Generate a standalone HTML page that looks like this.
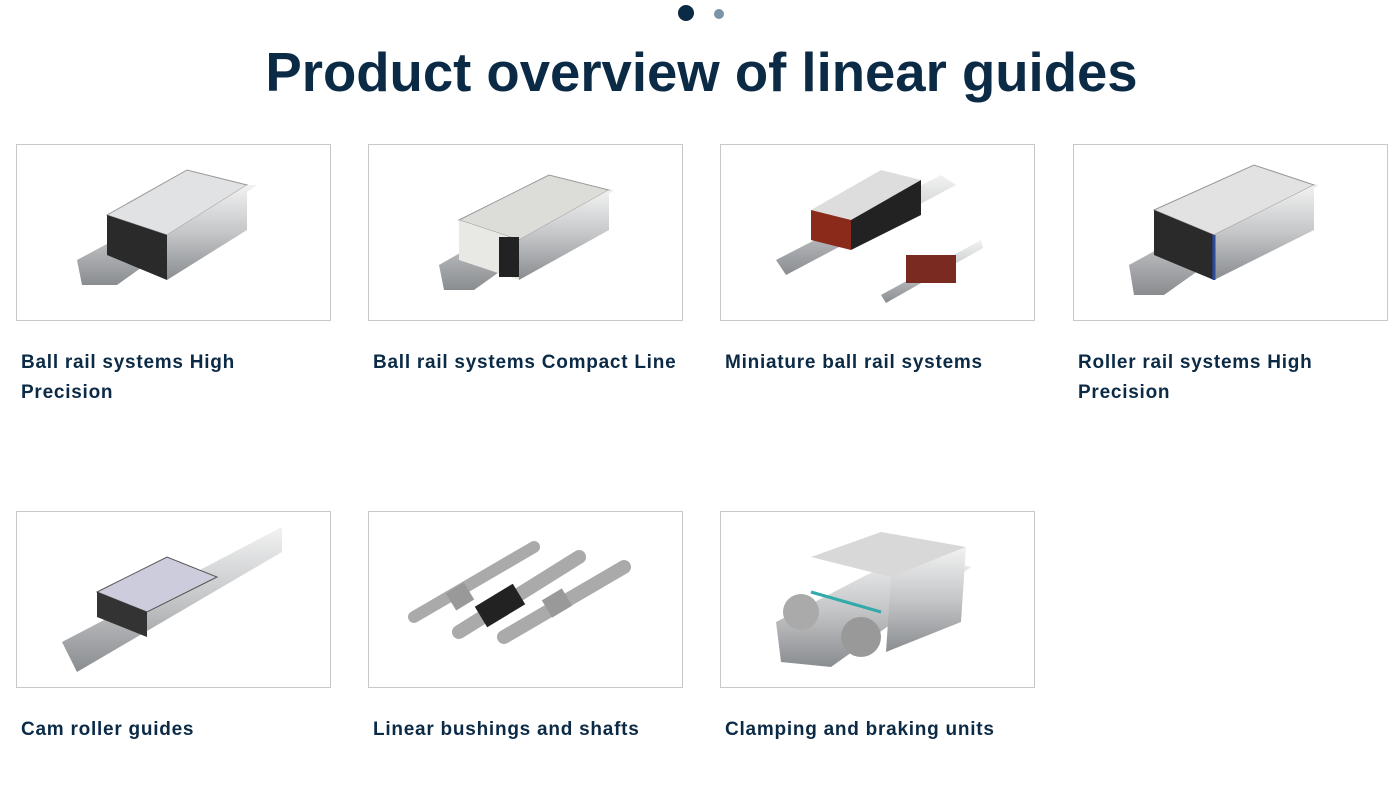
<!DOCTYPE html>
<html><head><meta charset="utf-8"><style>
body{margin:0;width:1395px;height:795px;background:#fff;position:relative;overflow:hidden;font-family:"Liberation Sans",sans-serif;color:#0b2a46}
.dot{position:absolute;border-radius:50%}
h1{position:absolute;left:0;width:1403px;top:41px;margin:0;text-align:center;font-size:54.5px;font-weight:bold;letter-spacing:0px;color:#0b2a46}
.card{position:absolute;width:313px;height:175px;border:1px solid #c8c8c8;background:#fff}
.card svg{position:absolute;left:0;top:0}
.lbl{position:absolute;font-size:19px;font-weight:bold;line-height:30px;width:290px;letter-spacing:0.75px;color:#0b2a46}
</style></head><body>
<div class="dot" style="left:678px;top:5px;width:16px;height:16px;background:#0b2a46"></div>
<div class="dot" style="left:714px;top:9px;width:10px;height:10px;background:#7b93a6"></div>
<h1>Product overview of linear guides</h1>

<svg width="0" height="0" style="position:absolute"><defs>
<linearGradient id="m" x1="0" y1="0" x2="0" y2="1"><stop offset="0" stop-color="#f2f2f2"/><stop offset=".5" stop-color="#c4c6c8"/><stop offset="1" stop-color="#8a8d90"/></linearGradient>
</defs></svg>

<div class="card" style="left:16px;top:144px"><svg width="313" height="175">
<polygon points="60,115 200,40 240,40 100,140 65,140" fill="url(#m)"/>
<polygon points="90,70 170,25 230,40 150,90" fill="#e0e2e4" stroke="#999"/>
<polygon points="90,70 150,90 150,135 90,110" fill="#2a2a2a"/>
<polygon points="150,90 230,40 230,85 150,135" fill="url(#m)"/></svg></div>
<div class="card" style="left:368px;top:144px"><svg width="313" height="175">
<polygon points="70,120 210,40 245,45 105,145 75,145" fill="url(#m)"/>
<polygon points="90,75 180,30 240,45 150,95" fill="#dcdcd8" stroke="#999"/>
<polygon points="90,75 150,95 150,135 90,115" fill="#e8e8e4"/>
<polygon points="150,95 240,45 240,85 150,135" fill="url(#m)"/>
<rect x="130" y="92" width="20" height="40" fill="#222"/></svg></div>
<div class="card" style="left:720px;top:144px"><svg width="313" height="175">
<polygon points="55,115 220,30 235,40 65,130" fill="url(#m)"/>
<polygon points="90,65 160,25 200,35 130,75" fill="#ddd"/>
<polygon points="90,65 130,75 130,105 90,95" fill="#8a2a1a"/>
<polygon points="130,75 200,35 200,70 130,105" fill="#222"/>
<polygon points="160,150 260,95 262,103 165,158" fill="url(#m)"/>
<rect x="185" y="110" width="50" height="28" fill="#7a2a20"/></svg></div>
<div class="card" style="left:1073px;top:144px"><svg width="313" height="175">
<polygon points="55,120 210,35 245,40 90,150 60,150" fill="url(#m)"/>
<polygon points="80,65 180,20 240,40 140,90" fill="#e2e2e2" stroke="#999"/>
<polygon points="80,65 140,90 140,135 80,110" fill="#2a2a2a"/>
<polygon points="140,90 240,40 240,85 140,135" fill="url(#m)"/>
<line x1="140" y1="90" x2="140" y2="135" stroke="#2a4aa0" stroke-width="3"/></svg></div>

<div class="card" style="left:16px;top:511px"><svg width="313" height="175">
<polygon points="45,130 265,15 265,40 60,160" fill="url(#m)"/>
<polygon points="80,80 150,45 200,65 130,100" fill="#ccd" stroke="#555"/>
<polygon points="80,80 130,100 130,125 80,105" fill="#333"/></svg></div>
<div class="card" style="left:368px;top:511px"><svg width="313" height="175">
<line x1="45" y1="105" x2="165" y2="35" stroke="#aaa" stroke-width="12" stroke-linecap="round"/>
<line x1="90" y1="120" x2="210" y2="45" stroke="#aaa" stroke-width="14" stroke-linecap="round"/>
<line x1="135" y1="125" x2="255" y2="55" stroke="#aaa" stroke-width="14" stroke-linecap="round"/>
<line x1="112" y1="105" x2="150" y2="82" stroke="#222" stroke-width="24"/>
<line x1="82" y1="90" x2="100" y2="79" stroke="#999" stroke-width="20"/>
<line x1="178" y1="97" x2="198" y2="85" stroke="#999" stroke-width="20"/></svg></div>
<div class="card" style="left:720px;top:511px"><svg width="313" height="175">
<polygon points="55,110 190,40 250,55 110,155 60,150" fill="url(#m)"/>
<polygon points="90,45 160,20 245,35 170,65" fill="#d8d8d8"/>
<polygon points="170,65 245,35 240,110 165,140" fill="url(#m)"/>
<circle cx="80" cy="100" r="18" fill="#aaa"/><circle cx="140" cy="125" r="20" fill="#999"/>
<line x1="90" y1="80" x2="160" y2="100" stroke="#3aa" stroke-width="3"/></svg></div>

<div class="lbl" style="left:21px;top:348px;width:260px">Ball rail systems High Precision</div>
<div class="lbl" style="left:373px;top:348px;width:330px">Ball rail systems Compact Line</div>
<div class="lbl" style="left:725px;top:348px">Miniature ball rail systems</div>
<div class="lbl" style="left:1078px;top:348px;width:260px">Roller rail systems High Precision</div>
<div class="lbl" style="left:21px;top:715px">Cam roller guides</div>
<div class="lbl" style="left:373px;top:715px">Linear bushings and shafts</div>
<div class="lbl" style="left:725px;top:715px">Clamping and braking units</div>
</body></html>
